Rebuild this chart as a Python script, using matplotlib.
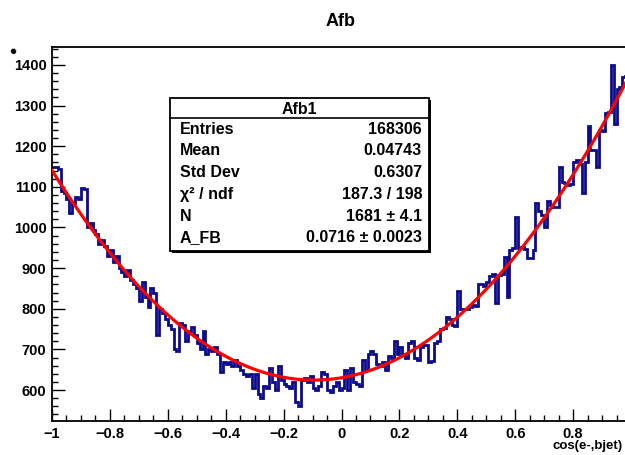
import numpy as np
import matplotlib
matplotlib.use("Agg")
import matplotlib.pyplot as plt
from matplotlib.ticker import MultipleLocator
from matplotlib.patches import Rectangle

# ---- data ----
bin_edges = np.linspace(-1.0, 1.0, 201)
counts = [
    1150, 1148, 1145, 1090, 1085, 1070, 1035, 1060, 1075, 1070,
    1098, 1095, 1000, 1010, 995, 985, 960, 970, 955, 930,
    945, 915, 930, 900, 890, 880, 895, 870, 860, 850,
    820, 865, 830, 805, 850, 840, 735, 800, 790, 775,
    760, 750, 700, 695, 765, 760, 720, 745, 755, 735,
    715, 700, 745, 690, 700, 695, 705, 690, 645, 670,
    665, 670, 660, 675, 660, 650, 640, 635, 640, 605,
    640, 590, 580, 610, 605, 655, 620, 600, 660, 625,
    615, 610, 605, 620, 570, 560, 625, 630, 620, 635,
    605, 600, 610, 645, 640, 600, 595, 610, 620, 600,
    605, 650, 600, 655, 620, 615, 610, 675, 650, 690,
    695, 690, 665, 660, 670, 650, 685, 680, 720, 690,
    705, 690, 680, 715, 720, 680, 675, 705, 710, 712,
    670, 672, 715, 720, 750, 752, 780, 775, 760, 758,
    845, 800, 800, 800, 805, 810, 808, 862, 860, 855,
    865, 880, 885, 815, 882, 885, 928, 830, 945, 950,
    1025, 950, 952, 948, 925, 925, 945, 1060, 1040, 1030,
    1000, 1065, 1055, 1050, 1050, 1148, 1112, 1110, 1105, 1108,
    1160, 1165, 1155, 1085, 1160, 1250, 1190, 1190, 1150, 1240,
    1238, 1282, 1285, 1400, 1255, 1340, 1345, 1370, 1372, 1380,
]
# fit parameters (stat box)
N_fit = 1681
A_FB_fit = 0.0716

title = "Afb"
xlabel = "cos(e-,bjet)"
stat_name = "Afb1"
stat_rows = [
    ("Entries", "168306"),
    ("Mean", "0.04743"),
    ("Std Dev", "0.6307"),
    ("\u03c7\u00b2 / ndf", "187.3 / 198"),
    ("N", "1681 \u00b1 4.1"),
    ("A_FB", "0.0716 \u00b1 0.0023"),
]
xticks = [-1, -0.8, -0.6, -0.4, -0.2, 0, 0.2, 0.4, 0.6, 0.8]
xticklabels = ["\u22121", "\u22120.8", "\u22120.6", "\u22120.4", "\u22120.2",
               "0", "0.2", "0.4", "0.6", "0.8"]
yticks = [600, 700, 800, 900, 1000, 1100, 1200, 1300, 1400]

W, H = 625, 455
plt.rcParams["font.family"] = ["Liberation Sans", "DejaVu Sans"]

fig = plt.figure(figsize=(W / 100, H / 100), dpi=100)

def fx(px):
    return px / W

def fy(py):
    return 1 - py / H

left, right, top, bottom = 52, 631, 47, 421
ax = fig.add_axes([fx(left), fy(bottom), (right - left) / W, (bottom - top) / H])

ax.stairs(counts, bin_edges, baseline=None, color="#0b0b8c", lw=2.0, zorder=2)
xf = np.linspace(-1, 1, 500)
ax.plot(xf, N_fit * (3 / 8 * (1 + xf ** 2) + A_FB_fit * xf), color="#ff0000", lw=2.3, zorder=3)

ax.set_xlim(-1, 1)
ax.set_ylim(524, 1444)

ax.set_xticks(xticks)
ax.set_xticklabels(xticklabels)
ax.set_yticks(yticks)
ax.xaxis.set_minor_locator(MultipleLocator(0.05))
ax.yaxis.set_minor_locator(MultipleLocator(20))
ax.tick_params(which="both", direction="in", top=False, right=False, width=1.0, colors="black")
ax.tick_params(which="major", length=9, labelsize=10.5, pad=4)
ax.tick_params(which="minor", length=4.5)
for lab in ax.get_xticklabels() + ax.get_yticklabels():
    lab.set_fontweight("bold")
for s in ax.spines.values():
    s.set_linewidth(1.3)

fig.text(fx(341), fy(22), title, ha="center", va="center", fontsize=13, fontweight="bold")
fig.text(fx(623), fy(446), xlabel, ha="right", va="center", fontsize=9.5, fontweight="bold")
fig.text(fx(14), fy(51), "\u25cf", ha="center", va="center", fontsize=9, rotation=30)

# stat box
bx0, by0, bx1, by1 = 170, 98, 429, 251
fig.patches.append(Rectangle((fx(bx0 + 2), fy(by1 + 2)), (bx1 - bx0) / W, (by1 - by0) / H,
                             transform=fig.transFigure, facecolor="black", edgecolor="none", zorder=5))
fig.patches.append(Rectangle((fx(bx0), fy(by1)), (bx1 - bx0) / W, (by1 - by0) / H,
                             transform=fig.transFigure, facecolor="white", edgecolor="black",
                             lw=1.3, zorder=6))
fig.lines.append(plt.Line2D([fx(bx0), fx(bx1)], [fy(118), fy(118)], transform=fig.transFigure,
                            color="black", lw=1.2, zorder=7))
fig.text(fx((bx0 + bx1) / 2), fy(109), stat_name, ha="center", va="center",
         fontsize=11.5, fontweight="bold", zorder=8)
for i, (k, v) in enumerate(stat_rows):
    yy = 129 + i * 21.8
    fig.text(fx(180), fy(yy), k, ha="left", va="center", fontsize=11.5, fontweight="bold", zorder=8)
    fig.text(fx(422), fy(yy), v, ha="right", va="center", fontsize=11.5, fontweight="bold", zorder=8)

fig.savefig("out.png", dpi=100)
